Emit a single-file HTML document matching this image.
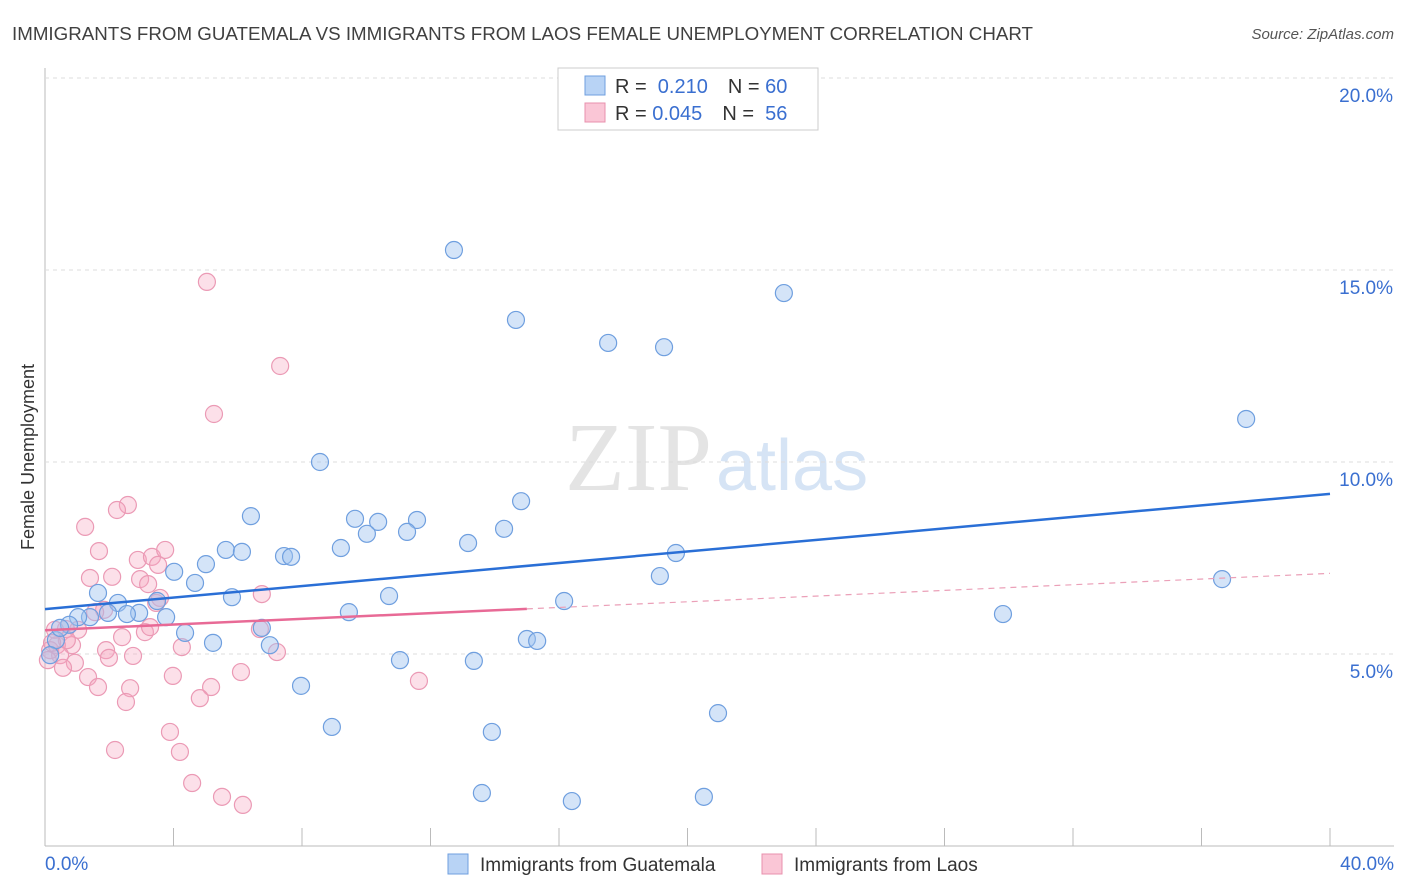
<!DOCTYPE html>
<html><head><meta charset="utf-8"><style>
body{margin:0;background:#fff;font-family:"Liberation Sans",sans-serif}
svg{display:block}
</style></head><body>
<svg id="c" width="1406" height="892">
<text x="12" y="40" font-size="18" fill="#404040" textLength="1021" lengthAdjust="spacingAndGlyphs">IMMIGRANTS FROM GUATEMALA VS IMMIGRANTS FROM LAOS FEMALE UNEMPLOYMENT CORRELATION CHART</text>
<text x="1394" y="39" font-size="15" fill="#555" font-style="italic" text-anchor="end">Source: ZipAtlas.com</text>
<text x="712" y="490" font-size="98" fill="#e4e4e4" font-family="Liberation Serif,serif" text-anchor="end">ZIP</text>
<text x="716" y="490" font-size="72" fill="#d6e4f5">atlas</text>
<text transform="translate(34,457) rotate(-90)" font-size="18" fill="#333" text-anchor="middle">Female Unemployment</text>
<g id="grid"></g><g id="ticks"></g><g id="pts"></g><g id="trend"></g>
<g>
<rect x="558" y="68" width="260" height="62" fill="#fff" stroke="#ccc"/>
<rect x="585" y="76" width="20" height="19" fill="#b8d3f5" stroke="#6f9fdf"/>
<rect x="585" y="103" width="20" height="19" fill="#fac6d6" stroke="#e890ad"/>
<text x="615" y="93" font-size="20" fill="#333">R = <tspan fill="#3a6fd0">&#160;0.210</tspan><tspan dx="20">N = </tspan><tspan fill="#3a6fd0">60</tspan></text>
<text x="615" y="120" font-size="20" fill="#333">R = <tspan fill="#3a6fd0">0.045</tspan><tspan dx="20">N = </tspan><tspan fill="#3a6fd0">&#160;56</tspan></text>
</g>
<g>
<rect x="448" y="854" width="20" height="20" fill="#b8d3f5" stroke="#6f9fdf"/>
<text x="480" y="871" font-size="19" fill="#333">Immigrants from Guatemala</text>
<rect x="762" y="854" width="20" height="20" fill="#fac6d6" stroke="#e890ad"/>
<text x="794" y="871" font-size="19" fill="#333">Immigrants from Laos</text>
</g>
</svg>
<script>
const yTicks=[5,10,15,20];
const xTickLabels=["0.0%","40.0%"];
const blueX=[12.73,14.66,17.53,19.27,23.00,37.39,8.56,14.82,6.41,9.65,10.37,11.58,10.02,11.27,14.29,13.17,5.63,6.13,7.44,7.66,9.21,19.64,5.01,4.02,4.67,19.14,36.64,5.82,10.71,16.16,3.49,2.27,1.65,2.93,2.55,1.96,3.77,1.40,1.03,0.75,9.46,29.82,4.36,6.75,15.00,15.32,5.23,7.00,11.05,13.35,0.34,0.16,7.97,20.95,8.93,13.91,13.60,16.40,20.51,0.47];
const blueY=[15.52,13.70,13.10,12.99,14.40,11.12,10.0,8.98,8.59,8.52,8.44,8.49,8.13,8.18,8.26,7.89,7.71,7.66,7.55,7.53,7.76,7.63,7.34,7.14,6.85,7.03,6.95,6.48,6.51,6.38,6.38,6.33,6.59,6.07,6.04,6.07,5.96,5.96,5.96,5.76,6.09,6.04,5.55,5.68,5.39,5.34,5.29,5.23,4.84,4.82,5.36,4.97,4.17,3.46,3.10,2.97,1.38,1.17,1.28,5.68];
const pinkX=[5.04,7.32,5.26,2.58,2.24,1.25,1.68,2.89,3.33,3.74,3.52,2.09,1.40,2.96,3.21,3.58,1.84,1.56,6.75,3.46,1.03,0.65,3.11,2.40,4.26,6.69,7.22,1.90,2.74,1.99,0.84,0.37,0.47,0.16,0.09,0.93,0.56,6.10,3.98,1.34,1.65,2.65,5.17,11.64,4.82,2.52,3.89,2.18,4.20,4.58,5.51,6.16,0.31,0.68,0.22,3.27];
const pinkY=[14.69,12.50,11.25,8.88,8.75,8.31,7.68,7.45,7.53,7.71,7.32,7.01,6.98,6.95,6.82,6.46,6.15,6.09,6.56,6.33,5.63,5.65,5.57,5.44,5.18,5.65,5.05,5.10,4.95,4.90,5.23,5.23,4.97,5.10,4.84,4.77,4.64,4.53,4.43,4.40,4.14,4.11,4.14,4.30,3.85,3.75,2.97,2.50,2.45,1.64,1.28,1.07,5.63,5.36,5.29,5.70];
const blueTrend=[6.17,9.17];
const pinkTrend=[5.62,7.1];
const pinkSolidEnd=15.0;

const NS="http://www.w3.org/2000/svg";
const sx=v=>45+v*32.125, sy=v=>846-v*38.4;
function mk(tag,attrs,parent){const e=document.createElementNS(NS,tag);for(const k in attrs)e.setAttribute(k,attrs[k]);document.getElementById(parent).appendChild(e);return e;}
mk('line',{x1:45,y1:68,x2:45,y2:846,stroke:'#bbb'},'grid');
mk('line',{x1:45,y1:846,x2:1394,y2:846,stroke:'#bbb'},'grid');
yTicks.forEach(t=>{
 const l=mk('line',{x1:45,x2:1394,y1:sy(t),y2:sy(t),stroke:'#ddd','stroke-dasharray':'4,4'},'grid');
 
 
 const tx=mk('text',{x:1393,y:sy(t)+24,'font-size':19,fill:'#3a6fd0','text-anchor':'end'},'grid');
 tx.textContent=t.toFixed(1)+'%';
 
 
});
for(let i=0;i<=10;i++){
 const l=mk('line',{x1:sx(i*4),x2:sx(i*4),y1:828,y2:846,stroke:'#bbb'},'ticks');
 
 
}
[[0,'start',45],[40,'end',1394]].forEach((d,i)=>{
 const t=mk('text',{x:d[2],y:870,'font-size':19,fill:'#3a6fd0','text-anchor':d[1]},'ticks');
 t.textContent=xTickLabels[i];
 
 
});
pinkX.forEach((x,i)=>{
 const c=mk('circle',{cx:sx(x),cy:sy(pinkY[i]),r:8.5,fill:'rgba(245,165,192,0.35)',stroke:'#eb9ab5','stroke-width':1.2},'pts');
 
 
});
blueX.forEach((x,i)=>{
 const c=mk('circle',{cx:sx(x),cy:sy(blueY[i]),r:8.5,fill:'rgba(160,196,240,0.45)',stroke:'#6f9fdf','stroke-width':1.2},'pts');
 
 
});
const bt=mk('line',{x1:sx(0),y1:sy(blueTrend[0]),x2:sx(40),y2:sy(blueTrend[1]),stroke:'#2a6fd6','stroke-width':2.5},'trend');


const pAt=x=>pinkTrend[0]+(pinkTrend[1]-pinkTrend[0])*x/40;
const ps=mk('line',{x1:sx(0),y1:sy(pAt(0)),x2:sx(pinkSolidEnd),y2:sy(pAt(pinkSolidEnd)),stroke:'#e86a96','stroke-width':2.5},'trend');


const pd=mk('line',{x1:sx(pinkSolidEnd),y1:sy(pAt(pinkSolidEnd)),x2:sx(40),y2:sy(pAt(40)),stroke:'#eba0b8','stroke-width':1.2,'stroke-dasharray':'6,5'},'trend');


</script>
</body></html>
